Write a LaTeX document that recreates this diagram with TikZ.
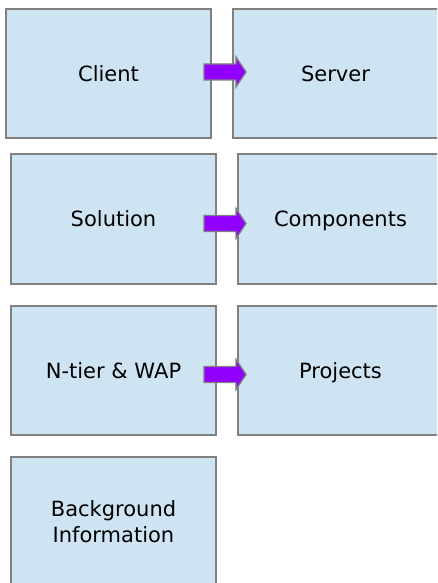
\documentclass[tikz,border=0pt]{standalone}
\usepackage{fontspec}
\setmainfont{DejaVu Sans}
\definecolor{boxfill}{RGB}{207,228,242}
\definecolor{boxline}{RGB}{128,128,128}
\definecolor{arrowfill}{RGB}{145,0,255}
\begin{document}
\begin{tikzpicture}[x=1pt,y=-1pt,
  topic/.style={draw=boxline, line width=1.5pt, fill=boxfill, minimum width=205pt, minimum height=129pt,
    inner sep=0pt, align=center, font=\fontsize{21pt}{26pt}\selectfont},
  oneline/.style={text height=15.3pt, text depth=0pt},
  blockarrow/.style={draw=boxline, line width=1.3pt, fill=arrowfill, line join=miter}]
\useasboundingbox (0,0) rectangle (437,583);
\clip (0,0) rectangle (437,583);
\node[topic, oneline] (client) at (108.5,73.5) {Client};
\node[topic, oneline, minimum width=215pt] (server) at (340.5,73.5) {Server\hspace*{10pt}};
\node[topic, oneline, minimum height=130pt] (solution) at (113.5,219) {Solution};
\node[topic, oneline, minimum height=130pt, minimum width=210pt] (components) at (343,219) {Components\hspace*{5pt}};
\node[topic, oneline] (ntier) at (113.5,370.5) {N-tier \& WAP};
\node[topic, oneline, minimum width=210pt] (projects) at (343,370.5) {Projects\hspace*{5pt}};
\node[topic] (background) at (113.5,521.5) {Background\\Information};
% block arrows between the boxes of each row
\coordinate (a1) at (225,72);
\coordinate (a2) at (225,223.5);
\coordinate (a3) at (225,374.5);
\foreach \c in {a1,a2,a3}{
  \draw[blockarrow, shift={(\c)}] (-21,-8) -- (11,-8) -- (11,-15) -- (21,0) -- (11,15) -- (11,8) -- (-21,8) -- cycle;
}
\end{tikzpicture}
\end{document}
